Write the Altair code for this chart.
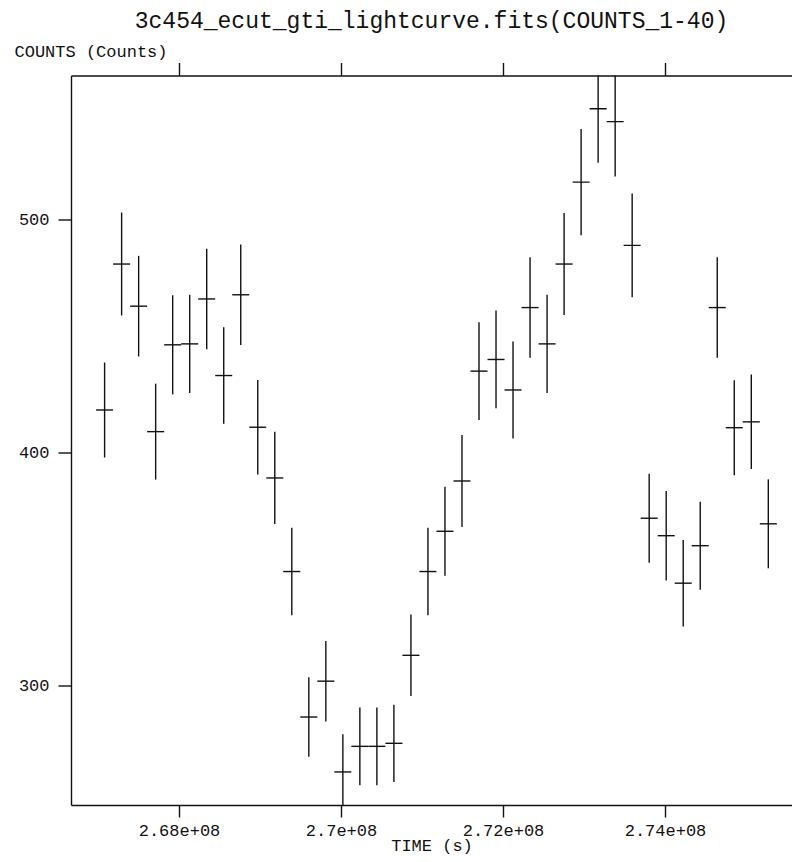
import altair as alt
import pandas as pd

# ---- data ----
TIME = [267081500, 267291600, 267501700, 267711800, 267921900, 268132000,
        268342100, 268552200, 268762300, 268972400, 269182500, 269392600,
        269602700, 269812800, 270022900, 270233000, 270443100, 270653200,
        270863300, 271073400, 271283500, 271493600, 271703700, 271913800,
        272123900, 272334000, 272544100, 272754200, 272964300, 273174400,
        273384500, 273594600, 273804700, 274014800, 274224900, 274435000,
        274645100, 274855200, 275065300, 275275400]
COUNTS = [418.3, 481.0, 462.9, 409.0, 446.3, 446.7, 466.0, 433.1, 467.8, 410.9,
          389.1, 348.9, 286.4, 301.8, 262.8, 273.8, 273.8, 275.1, 312.9, 348.9,
          366.2, 387.8, 435.0, 440.0, 426.9, 462.3, 446.7, 481.0, 516.2, 547.7,
          542.2, 489.0, 371.8, 364.3, 343.9, 360.0, 462.3, 410.7, 413.2, 369.4]
ERR = [20.4, 22.1, 21.6, 20.6, 21.3, 21.1, 21.6, 20.7, 21.6, 20.3,
       19.8, 18.8, 17.1, 17.3, 16.2, 16.7, 16.7, 16.6, 17.5, 18.8,
       19.1, 19.8, 21.0, 21.0, 20.8, 21.6, 21.1, 21.9, 22.8, 23.2,
       23.6, 22.3, 19.1, 19.2, 18.6, 18.9, 21.6, 20.4, 20.3, 19.1]
HALF_BIN = 105050
X_TICKS = [2.68e8, 2.70e8, 2.72e8, 2.74e8]
Y_TICKS = [300, 400, 500]
X_DOMAIN = [266666667, 275567902]
Y_DOMAIN = [248.6, 562.0]
TITLE = "3c454_ecut_gti_lightcurve.fits(COUNTS_1-40)"
X_TITLE = "TIME (s)"
Y_TITLE = "COUNTS (Counts)"

df = pd.DataFrame({"time": TIME, "counts": COUNTS, "err": ERR})

FONT = "Liberation Mono"
INK = "#111111"
W, H = 721, 729.5

base = alt.Chart(df).transform_calculate(
    lo="datum.counts - datum.err",
    hi="datum.counts + datum.err",
    tlo=f"datum.time - {HALF_BIN}",
    thi=f"datum.time + {HALF_BIN}",
)

y_axis = alt.Axis(
    values=Y_TICKS, orient="left", grid=False,
    domain=True, domainColor=INK, domainWidth=1.4,
    ticks=True, tickSize=13, tickColor=INK, tickWidth=1.4,
    labelFont=FONT, labelFontSize=17, labelColor=INK, labelPadding=9,
    labelBaseline="middle",
    title=Y_TITLE, titleFont=FONT, titleFontSize=17, titleFontWeight="normal",
    titleColor=INK, titleAngle=0, titleAlign="left", titleBaseline="alphabetic",
    titleX=-57, titleY=-19,
)
y_scale = alt.Scale(domain=Y_DOMAIN, nice=False, zero=False)

vbars = base.mark_rule(clip=True, color=INK, strokeWidth=1.4).encode(
    x=alt.X("time:Q",
            scale=alt.Scale(domain=X_DOMAIN, nice=False, zero=False),
            axis=alt.Axis(
                orient="bottom", values=X_TICKS, grid=False,
                domain=True, domainColor=INK, domainWidth=1.4,
                ticks=True, tickSize=12, tickColor=INK, tickWidth=1.4,
                labelExpr="format(datum.value / 1e8, '.3~') + 'e+08'",
                labelFont=FONT, labelFontSize=17, labelColor=INK,
                labelBaseline="alphabetic", labelPadding=18, labelFlush=False,
                title=X_TITLE, titleFont=FONT, titleFontSize=17,
                titleFontWeight="normal", titleColor=INK,
                titleX=W / 2, titleY=45, titleAlign="center",
                titleBaseline="alphabetic",
            )),
    y=alt.Y("lo:Q", scale=y_scale, axis=y_axis),
    y2="hi:Q",
)

hbars = base.mark_rule(clip=True, color=INK, strokeWidth=1.4).encode(
    x=alt.X("tlo:Q",
            scale=alt.Scale(domain=X_DOMAIN, nice=False, zero=False),
            axis=alt.Axis(
                orient="top", values=X_TICKS, grid=False, labels=False,
                domain=True, domainColor=INK, domainWidth=1.4,
                ticks=True, tickSize=13, tickColor=INK, tickWidth=1.4,
                title=None,
            )),
    x2="thi:Q",
    y=alt.Y("counts:Q", scale=y_scale, axis=y_axis),
)

chart = alt.layer(vbars, hbars).resolve_scale(x="independent").properties(
    width=W, height=H,
    autosize=alt.AutoSizeParams(type="none"),
    padding={"left": 63, "top": 67.5, "right": 0, "bottom": 49},
    background="white",
    title=alt.TitleParams(
        text=TITLE, font=FONT, fontSize=23, fontWeight="normal",
        color=INK, anchor="middle", offset=10,
    ),
).configure_view(stroke=None)

chart.save("out.html", embed_options={"renderer": "svg", "actions": False})
